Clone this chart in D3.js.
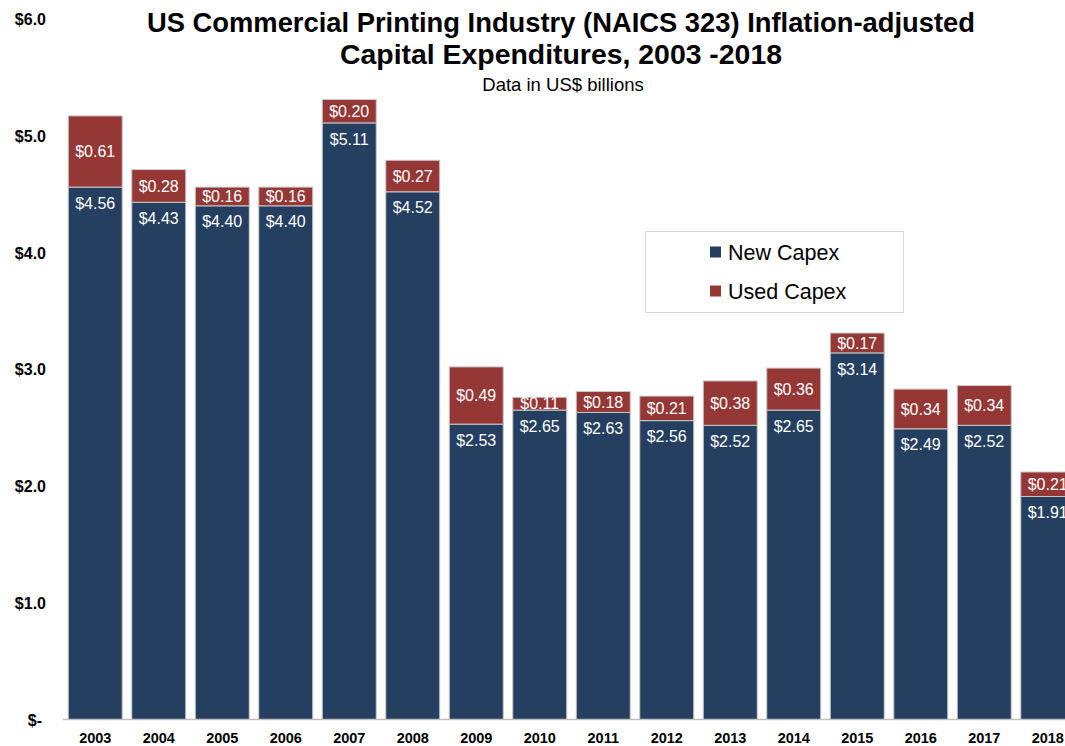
<!DOCTYPE html>
<html>
<head>
<meta charset="utf-8">
<script src="https://cdn.jsdelivr.net/npm/d3@7"></script>
<style>
  html, body { margin: 0; padding: 0; background: #fff; overflow: hidden; }
  svg { display: block; }
  .title { font-family: "Liberation Sans", Arial, sans-serif; font-weight: bold; fill: #000; }
  .axis text { font-family: "Liberation Sans", Arial, sans-serif; font-weight: bold; fill: #000; }
  .lbl { font-family: "Liberation Sans", Arial, sans-serif; fill: #fff; }
</style>
</head>
<body>
<svg id="chart" width="1065" height="746"></svg>
<script>
// Capital expenditures by year, US$ billions
const years = ["2003","2004","2005","2006","2007","2008","2009","2010","2011","2012","2013","2014","2015","2016","2017","2018"];
const newCapex  = [4.56, 4.43, 4.40, 4.40, 5.11, 4.52, 2.53, 2.65, 2.63, 2.56, 2.52, 2.65, 3.14, 2.49, 2.52, 1.91];
const usedCapex = [0.61, 0.28, 0.16, 0.16, 0.20, 0.27, 0.49, 0.11, 0.18, 0.21, 0.38, 0.36, 0.17, 0.34, 0.34, 0.21];
const yTicks = [0, 1, 2, 3, 4, 5, 6];
const yTickLabels = ["$-", "$1.0", "$2.0", "$3.0", "$4.0", "$5.0", "$6.0"];
const seriesNames = ["New Capex", "Used Capex"];
const colors = { "New Capex": "#253f60", "Used Capex": "#953735" };

const svg = d3.select("#chart");

const x = d3.scaleBand().domain(years).range([63.5, 1079.5]).paddingInner(0.15).paddingOuter(0.075);
const y = d3.scaleLinear().domain([0, 6]).range([719.5, 19]);

// stacked rows
const rows = years.map((yr, i) => ({ year: yr, "New Capex": newCapex[i], "Used Capex": usedCapex[i] }));
const stack = d3.stack().keys(seriesNames)(rows);

// y axis labels (no line)
const yAxis = svg.append("g").attr("class", "axis")
  .attr("transform", "translate(46,0)")
  .call(d3.axisLeft(y).tickValues(yTicks).tickSize(0).tickPadding(0)
    .tickFormat((d, i) => yTickLabels[i]));
yAxis.select(".domain").remove();
yAxis.selectAll("text").style("font-size", "16px").attr("dy", "0.35em")
  .attr("dx", (d) => d === 0 ? -4 : 0);

// bars
svg.append("g").selectAll("g").data(stack).join("g")
  .attr("fill", d => colors[d.key])
  .selectAll("rect").data(d => d).join("rect")
  .attr("x", d => x(d.data.year))
  .attr("width", x.bandwidth())
  .attr("y", d => y(d[1]))
  .attr("height", d => y(d[0]) - y(d[1]))
  .attr("stroke", "#c8c8c8")
  .attr("stroke-width", 1);

// baseline / x axis
const xAxis = svg.append("g").attr("class", "axis")
  .attr("transform", `translate(0,${y(0)})`)
  .call(d3.axisBottom(x).tickSize(0).tickPadding(13));
xAxis.select(".domain").attr("stroke", "#bfbfbf").attr("stroke-width", 1.5)
  .attr("d", `M63,0H1080`);
xAxis.selectAll("text").style("font-size", "14.5px");

// value labels
const fmt = v => "$" + v.toFixed(2);
svg.append("g").selectAll("text").data(rows).join("text")
  .attr("class", "lbl")
  .attr("x", d => x(d.year) + x.bandwidth() / 2)
  .attr("y", d => y(d["New Capex"]) + 16)
  .attr("dy", "0.35em")
  .attr("text-anchor", "middle")
  .style("font-size", "16px")
  .text(d => fmt(d["New Capex"]));

svg.append("g").selectAll("text").data(rows).join("text")
  .attr("class", "lbl")
  .attr("x", d => x(d.year) + x.bandwidth() / 2)
  .attr("y", d => y(d["New Capex"] + d["Used Capex"] / 2))
  .attr("dy", "0.35em")
  .attr("text-anchor", "middle")
  .style("font-size", "16px")
  .text(d => fmt(d["Used Capex"]));

// title
svg.append("text").attr("class", "title").attr("x", 561).attr("y", 32)
  .attr("text-anchor", "middle").style("font-size", "28px")
  .attr("textLength", 828).attr("lengthAdjust", "spacingAndGlyphs")
  .text("US Commercial Printing Industry (NAICS 323) Inflation-adjusted");
svg.append("text").attr("class", "title").attr("x", 561).attr("y", 64)
  .attr("text-anchor", "middle").style("font-size", "28px")
  .attr("textLength", 442).attr("lengthAdjust", "spacingAndGlyphs")
  .text("Capital Expenditures, 2003 -2018");
svg.append("text").attr("x", 563).attr("y", 91)
  .attr("text-anchor", "middle")
  .style("font-family", "'Liberation Sans', Arial, sans-serif")
  .style("font-size", "18.5px")
  .text("Data in US$ billions");

// legend
const legend = svg.append("g");
legend.append("rect").attr("x", 645.5).attr("y", 231.5).attr("width", 258).attr("height", 81)
  .attr("fill", "#fff").attr("stroke", "#d9d9d9");
seriesNames.forEach((name, i) => {
  const ly = 252 + i * 39;
  legend.append("rect").attr("x", 710).attr("y", ly - 5.5).attr("width", 11).attr("height", 11)
    .attr("fill", colors[name]);
  legend.append("text").attr("x", 728).attr("y", ly).attr("dy", "0.36em")
    .style("font-family", "'Liberation Sans', Arial, sans-serif")
    .style("font-size", "21.5px")
    .text(name);
});
</script>
</body>
</html>
